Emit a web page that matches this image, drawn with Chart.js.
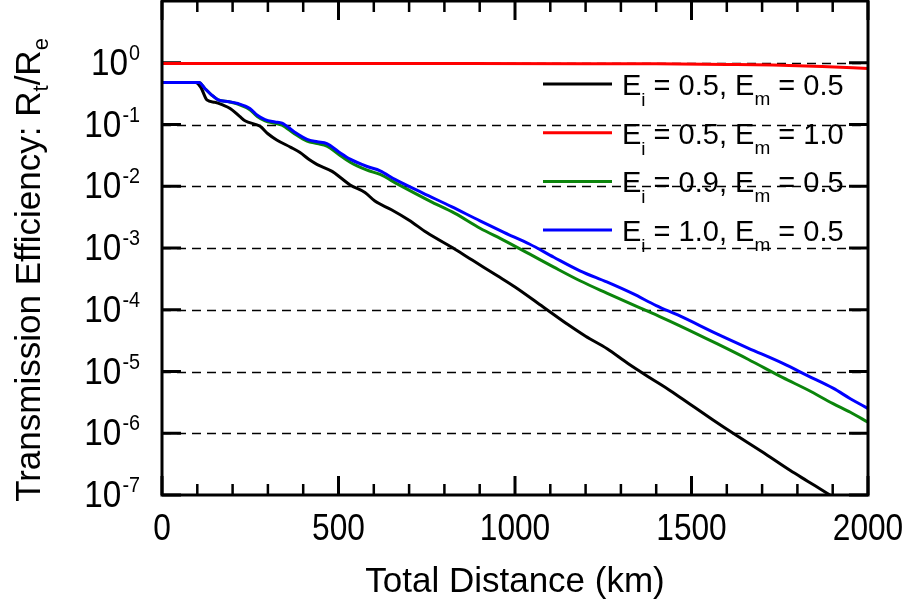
<!DOCTYPE html>
<html>
<head>
<meta charset="utf-8">
<script src="https://cdn.jsdelivr.net/npm/chart.js@4/dist/chart.umd.min.js"></script>
<style>
  html, body { margin: 0; padding: 0; background: #fff; }
  #wrap { width: 912px; height: 609px; }
</style>
</head>
<body>
<div id="wrap"><canvas id="chart" width="912" height="609"></canvas></div>
<script>
// distances (km) and transmission efficiency
const blackKm = [0, 95, 110, 127, 150, 170, 193, 220, 235, 278, 300, 325, 365, 390, 420, 440, 482, 510, 533, 575, 603, 650, 700, 750, 830, 880, 950, 1000, 1079, 1150, 1200, 1261, 1320, 1382, 1440, 1496, 1560, 1618, 1700, 1779, 1830, 1884, 1910];
const blackVal = [4.8e-1, 4.8e-1, 4.0e-1, 2.51e-1, 2.29e-1, 2.09e-1, 1.82e-1, 1.35e-1, 1.15e-1, 9.33e-2, 7.08e-2, 5.62e-2, 4.27e-2, 3.55e-2, 2.63e-2, 2.24e-2, 1.74e-2, 1.32e-2, 1.05e-2, 7.94e-3, 5.75e-3, 4.17e-3, 2.82e-3, 1.78e-3, 9.55e-4, 6.31e-4, 3.55e-4, 2.34e-4, 1.12e-4, 5.75e-5, 3.72e-5, 2.34e-5, 1.35e-5, 7.94e-6, 4.90e-6, 2.95e-6, 1.66e-6, 1.0e-6, 5.01e-7, 2.51e-7, 1.66e-7, 1.07e-7, 8.7e-8];

const redKm = [0, 400, 800, 1200, 1400, 1600, 1730, 1870, 2000];
const redVal = [0.97, 0.97, 0.97, 0.965, 0.96, 0.94, 0.92, 0.87, 0.81];

const greenKm = [0, 105, 122, 140, 159, 190, 215, 249, 270, 292, 320, 340, 375, 411, 440, 467, 500, 533, 581, 618, 669, 759, 830, 901, 970, 1042, 1110, 1184, 1260, 1354, 1410, 1467, 1572, 1660, 1759, 1830, 1901, 1950, 2000];
const greenVal = [4.8e-1, 4.8e-1, 3.8e-1, 3.02e-1, 2.51e-1, 2.34e-1, 2.14e-1, 1.74e-1, 1.35e-1, 1.15e-1, 1.05e-1, 9.77e-2, 7.08e-2, 5.37e-2, 4.90e-2, 4.47e-2, 3.31e-2, 2.45e-2, 1.82e-2, 1.55e-2, 1.07e-2, 5.75e-3, 3.63e-3, 2.09e-3, 1.32e-3, 7.94e-4, 4.90e-4, 2.95e-4, 1.86e-4, 1.07e-4, 7.76e-5, 5.50e-5, 2.82e-5, 1.58e-5, 7.94e-6, 5.01e-6, 3.02e-6, 2.19e-6, 1.51e-6];

const blueKm = [0, 105, 122, 140, 159, 190, 215, 249, 270, 292, 320, 340, 375, 411, 440, 467, 500, 533, 581, 618, 660, 739, 820, 901, 970, 1042, 1110, 1184, 1260, 1334, 1400, 1467, 1572, 1660, 1759, 1830, 1901, 1950, 2000];
const blueVal = [4.8e-1, 4.8e-1, 3.8e-1, 3.02e-1, 2.51e-1, 2.34e-1, 2.19e-1, 1.82e-1, 1.41e-1, 1.20e-1, 1.10e-1, 1.05e-1, 7.59e-2, 5.75e-2, 5.25e-2, 4.90e-2, 3.63e-2, 2.75e-2, 2.09e-2, 1.78e-2, 1.29e-2, 7.76e-3, 4.68e-3, 2.75e-3, 1.78e-3, 1.15e-3, 7.08e-4, 4.27e-4, 2.82e-4, 1.82e-4, 1.17e-4, 7.94e-5, 4.07e-5, 2.40e-5, 1.35e-5, 8.51e-6, 5.37e-6, 3.63e-6, 2.51e-6];

// legend labels: E_i and E_m for each series
const seriesEi = ['0.5', '0.5', '0.9', '1.0'];
const seriesEm = ['0.5', '1.0', '0.5', '0.5'];
const seriesColor = ['#000000', '#ff0000', '#0b850b', '#0000ff'];

// axis ticks
const xMajorKm = [0, 500, 1000, 1500, 2000];
const xMinorKm = [100, 200, 300, 400, 600, 700, 800, 900, 1100, 1200, 1300, 1400, 1600, 1700, 1800, 1900];
const yTickExp = [0, -1, -2, -3, -4, -5, -6, -7];
const yGridExp = [0, -1, -2, -3, -4, -5, -6];

const FONT = '"Liberation Sans", Arial, sans-serif';

function pts(km, val) {
    return km.map((k, i) => ({ x: k, y: val[i] }));
}

function txt(ctx, s, x, y, size, align, sx) {
    ctx.save();
    ctx.translate(x, y);
    ctx.scale(sx, 1);
    ctx.font = size + 'px ' + FONT;
    ctx.textAlign = align;
    ctx.textBaseline = 'alphabetic';
    ctx.fillStyle = '#000';
    ctx.fillText(s, 0, 0);
    ctx.restore();
}

function textW(ctx, s, size, sx) {
    ctx.font = size + 'px ' + FONT;
    return ctx.measureText(s).width * sx;
}

// grid, frame and inward ticks drawn under the data
const framePlugin = {
    id: 'frame',
    beforeDatasetsDraw(chart) {
        const ctx = chart.ctx;
        const a = chart.chartArea;
        const xs = chart.scales.x, ys = chart.scales.y;
        ctx.save();
        // dashed grid
        ctx.strokeStyle = '#000';
        ctx.lineWidth = 1.3;
        ctx.setLineDash([9, 6]);
        yGridExp.forEach(e => {
            const y = Math.round(ys.getPixelForValue(Math.pow(10, e))) + 0.5;
            ctx.beginPath();
            ctx.moveTo(a.left, y);
            ctx.lineTo(a.right, y);
            ctx.stroke();
        });
        ctx.setLineDash([]);
        // ticks
        ctx.lineWidth = 3;
        yTickExp.forEach(e => {
            const y = ys.getPixelForValue(Math.pow(10, e));
            ctx.beginPath();
            ctx.moveTo(a.left, y); ctx.lineTo(a.left + 19, y);
            ctx.moveTo(a.right, y); ctx.lineTo(a.right - 19, y);
            ctx.stroke();
        });
        xMajorKm.forEach(k => {
            const x = xs.getPixelForValue(k);
            ctx.beginPath();
            ctx.moveTo(x, a.bottom); ctx.lineTo(x, a.bottom - 19);
            ctx.moveTo(x, a.top); ctx.lineTo(x, a.top + 19);
            ctx.stroke();
        });
        ctx.lineWidth = 2.5;
        xMinorKm.forEach(k => {
            const x = xs.getPixelForValue(k);
            ctx.beginPath();
            ctx.moveTo(x, a.bottom); ctx.lineTo(x, a.bottom - 11);
            ctx.moveTo(x, a.top); ctx.lineTo(x, a.top + 11);
            ctx.stroke();
        });
        ctx.restore();
    },
    afterDraw(chart) {
        const ctx = chart.ctx;
        const a = chart.chartArea;
        const xs = chart.scales.x, ys = chart.scales.y;
        ctx.save();
        // frame
        ctx.strokeStyle = '#000';
        ctx.lineWidth = 3;
        ctx.strokeRect(a.left, a.top, a.right - a.left, a.bottom - a.top);

        // x tick labels
        xMajorKm.forEach(k => {
            txt(ctx, String(k), xs.getPixelForValue(k), a.bottom + 45, 36, 'center', 0.88);
        });
        // x title
        txt(ctx, 'Total Distance (km)', (a.left + a.right) / 2, 592, 35, 'center', 1);

        // y tick labels 10^n
        yTickExp.forEach(e => {
            const y = ys.getPixelForValue(Math.pow(10, e));
            const sup = String(e);
            const right = a.left - 22;
            const wSup = textW(ctx, sup, 22, 0.9);
            txt(ctx, sup, right - wSup, y - 3, 22, 'left', 0.9);
            txt(ctx, '10', right - wSup - 1, y + 12, 37, 'right', 0.9);
        });

        // y title with subscripts, rotated
        ctx.save();
        ctx.translate(40, 270);
        ctx.rotate(-Math.PI / 2);
        const parts = [
            ['Transmission Efficiency: R', 35, 0],
            ['t', 22, 8],
            ['/R', 35, 0],
            ['e', 22, 8]
        ];
        let total = 0;
        parts.forEach(p => { total += textW(ctx, p[0], p[1], 1); });
        let cx = -total / 2;
        parts.forEach(p => {
            ctx.font = p[1] + 'px ' + FONT;
            ctx.fillStyle = '#000';
            ctx.textAlign = 'left';
            ctx.fillText(p[0], cx, p[2]);
            cx += textW(ctx, p[0], p[1], 1);
        });
        ctx.restore();

        // legend
        seriesEi.forEach((ei, i) => {
            const ly = 84 + i * 48.7;
            ctx.strokeStyle = seriesColor[i];
            ctx.lineWidth = 3;
            ctx.beginPath();
            ctx.moveTo(543, ly);
            ctx.lineTo(612, ly);
            ctx.stroke();
            let x = 622;
            const base = ly + 11;
            const seq = [
                ['E', 29, 0],
                ['i', 19, 11],
                [' = ' + ei + ', E', 29, 0],
                ['m', 19, 10],
                [' = ' + seriesEm[i], 29, 0]
            ];
            seq.forEach(s => {
                txt(ctx, s[0], x, base + s[2], s[1], 'left', 1);
                x += textW(ctx, s[0], s[1], 1);
            });
        });
        ctx.restore();
    }
};

const ctx = document.getElementById('chart').getContext('2d');
new Chart(ctx, {
    type: 'line',
    data: {
        datasets: [
            { data: pts(blackKm, blackVal), borderColor: seriesColor[0], order: 1 },
            { data: pts(redKm, redVal), borderColor: seriesColor[1], order: 2 },
            { data: pts(greenKm, greenVal), borderColor: seriesColor[2], order: 3 },
            { data: pts(blueKm, blueVal), borderColor: seriesColor[3], order: 0 }
        ]
    },
    options: {
        responsive: false,
        animation: false,
        devicePixelRatio: 1,
        layout: { padding: { left: 0, right: 44, top: 1, bottom: 0 } },
        elements: {
            line: { borderWidth: 3, cubicInterpolationMode: 'monotone', fill: false },
            point: { radius: 0 }
        },
        plugins: { legend: { display: false }, tooltip: { enabled: false } },
        scales: {
            x: {
                type: 'linear', min: 0, max: 2000,
                grid: { display: false }, border: { display: false },
                ticks: { display: false },
                afterFit: s => { s.height = 114; }
            },
            y: {
                type: 'logarithmic', min: 1e-7, max: 10,
                grid: { display: false }, border: { display: false },
                ticks: { display: false },
                afterFit: s => { s.width = 162; }
            }
        }
    },
    plugins: [framePlugin]
});
</script>
</body>
</html>
